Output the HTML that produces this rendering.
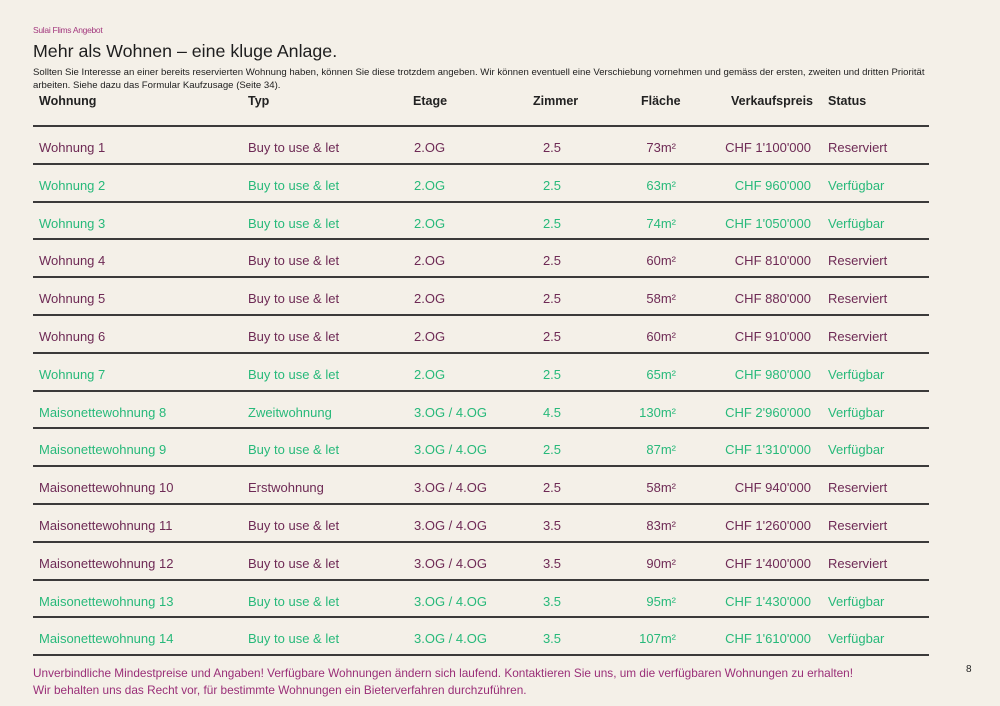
<!DOCTYPE html>
<html><head><meta charset="utf-8"><style>
body{margin:0;width:1000px;height:706px;background:#f4f0e8;font-family:"Liberation Sans",sans-serif;position:relative;overflow:hidden}
div{position:absolute;white-space:nowrap}
.l{left:33px;width:896px;height:2px;background:#3b3a3a}
.h{top:94px;font-size:12.5px;font-weight:bold;color:#222}
.r{font-size:13px;line-height:16px}
.p{color:#6e2a55}.g{color:#27b97a}
</style></head><body>
<div style="left:33px;top:25px;font-size:8.5px;color:#a3387e;letter-spacing:-0.3px">Sulai Flims Angebot</div>
<div style="left:33px;top:41px;font-size:17.8px;color:#1e1e1e">Mehr als Wohnen – eine kluge Anlage.</div>
<div style="left:33px;top:67px;font-size:9.6px;line-height:12.5px;color:#1e1e1e">Sollten Sie Interesse an einer bereits reservierten Wohnung haben, können Sie diese trotzdem angeben. Wir können eventuell eine Verschiebung vornehmen und gemäss der ersten, zweiten und dritten Priorität<br>arbeiten. Siehe dazu das Formular Kaufzusage (Seite 34).</div>
<div class="h" style="left:39px">Wohnung</div>
<div class="h" style="left:248px">Typ</div>
<div class="h" style="left:413px">Etage</div>
<div class="h" style="left:533px">Zimmer</div>
<div class="h" style="left:641px">Fläche</div>
<div class="h" style="left:731px">Verkaufspreis</div>
<div class="h" style="left:828px">Status</div>
<div id="t"></div>
<div style="left:33px;top:665px;font-size:11.8px;line-height:17px;color:#9a2f78">Unverbindliche Mindestpreise und Angaben! Verfügbare Wohnungen ändern sich laufend. Kontaktieren Sie uns, um die verfügbaren Wohnungen zu erhalten!<br>Wir behalten uns das Recht vor, für bestimmte Wohnungen ein Bieterverfahren durchzuführen.</div>
<div style="left:966px;top:664px;font-size:10px;color:#222">8</div>
<script>
var d=[["Wohnung 1","Buy to use & let","2.OG","2.5","73","1'100'000",0],
["Wohnung 2","Buy to use & let","2.OG","2.5","63","960'000",1],
["Wohnung 3","Buy to use & let","2.OG","2.5","74","1'050'000",1],
["Wohnung 4","Buy to use & let","2.OG","2.5","60","810'000",0],
["Wohnung 5","Buy to use & let","2.OG","2.5","58","880'000",0],
["Wohnung 6","Buy to use & let","2.OG","2.5","60","910'000",0],
["Wohnung 7","Buy to use & let","2.OG","2.5","65","980'000",1],
["Maisonettewohnung 8","Zweitwohnung","3.OG / 4.OG","4.5","130","2'960'000",1],
["Maisonettewohnung 9","Buy to use & let","3.OG / 4.OG","2.5","87","1'310'000",1],
["Maisonettewohnung 10","Erstwohnung","3.OG / 4.OG","2.5","58","940'000",0],
["Maisonettewohnung 11","Buy to use & let","3.OG / 4.OG","3.5","83","1'260'000",0],
["Maisonettewohnung 12","Buy to use & let","3.OG / 4.OG","3.5","90","1'400'000",0],
["Maisonettewohnung 13","Buy to use & let","3.OG / 4.OG","3.5","95","1'430'000",1],
["Maisonettewohnung 14","Buy to use & let","3.OG / 4.OG","3.5","107","1'610'000",1]];
var h='';
for(var k=0;k<15;k++)h+='<div class="l" style="top:'+(125+k*37.8).toFixed(1)+'px"></div>';
d.forEach(function(r,i){var y=(140+i*37.8).toFixed(1),c=r[6]?'g':'p';
function s(st,t){h+='<div class="r '+c+'" style="top:'+y+'px;'+st+'">'+t+'</div>';}
s('left:39px',r[0]);s('left:248px',r[1].replace('&','&amp;'));s('left:414px',r[2]);
s('left:534px;width:36px;text-align:center',r[3]);
s('right:324px',r[4]+'m²');s('right:189px','CHF '+r[5]);
s('left:828px',r[6]?'Verfügbar':'Reserviert');});
document.getElementById('t').outerHTML=h;
</script>
</body></html>
